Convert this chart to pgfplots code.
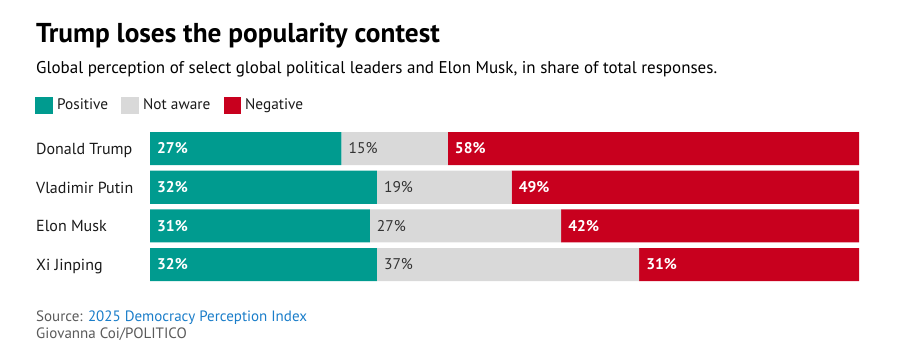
\documentclass[border=0pt]{standalone}
\usepackage{fontspec}
\setmainfont{PT Sans}
\usepackage{pgfplots}
\pgfplotsset{compat=1.18}
\usepackage{pgfplotstable}
\definecolor{cpos}{HTML}{009B8F}
\definecolor{cna}{HTML}{D9D9D9}
\definecolor{cneg}{HTML}{C8001E}
\definecolor{txt}{HTML}{1A1A1A}
\definecolor{grey}{HTML}{5A5A5A}
\definecolor{link}{HTML}{1A7DC9}
\definecolor{natxt}{HTML}{333333}

% y = row, s = start of segment, v = share
\pgfplotstableread{
y s v
0 0 27
1 0 32
2 0 31
3 0 32
}\posdata
\pgfplotstableread{
y s v
0 27 15
1 32 19
2 31 27
3 32 37
}\nadata
\pgfplotstableread{
y s v
0 42 58
1 51 49
2 58 42
3 69 31
}\negdata

\pgfplotsset{
  common/.style={
    at={(150pt,-129.2pt)}, anchor=north west,
    scale only axis, width=709pt, height=154.8pt,
    xmin=0, xmax=100, ymin=-0.5, ymax=3.5, y dir=reverse,
    axis line style={draw=none}, tick style={draw=none},
    major tick length=0pt, xtick=\empty, clip=false,
  },
}

\begin{document}
\begin{tikzpicture}
\useasboundingbox (0pt,0pt) rectangle (900pt,-361pt);
\node[anchor=base west, inner sep=0pt, font=\bfseries\fontsize{27.3}{32}\selectfont, text=black] at (36pt,-43pt) {Trump loses the popularity contest};
\node[anchor=base west, inner sep=0pt, font=\fontsize{17}{20}\selectfont, text=black] at (36pt,-74pt) {Global perception of select global political leaders and Elon Musk, in share of total responses.};
% legend
\fill[cpos] (35pt,-97pt) rectangle (53pt,-114pt);
\node[anchor=base west, inner sep=0pt, font=\fontsize{15.3}{18}\selectfont, text=txt] at (57pt,-110pt) {Positive};
\fill[cna] (121pt,-97pt) rectangle (139pt,-114pt);
\node[anchor=base west, inner sep=0pt, font=\fontsize{15.3}{18}\selectfont, text=txt] at (143pt,-110pt) {Not aware};
\fill[cneg] (224pt,-97pt) rectangle (241pt,-114pt);
\node[anchor=base west, inner sep=0pt, font=\fontsize{15.3}{18}\selectfont, text=txt] at (245pt,-110pt) {Negative};

\begin{axis}[common,
  xbar stacked, bar width=0.853,
  ytick={0,1,2,3},
  yticklabels={Donald Trump,Vladimir Putin,Elon Musk,Xi Jinping},
  yticklabel style={anchor=base west, xshift=-114pt, yshift=-5.8pt, inner sep=0pt, font=\fontsize{16}{19}\selectfont, text=txt},
]
\addplot[fill=cpos, draw=none] table[x=v,y=y]{\posdata};
\addplot[fill=cna, draw=none] table[x=v,y=y]{\nadata};
\addplot[fill=cneg, draw=none] table[x=v,y=y]{\negdata};
\end{axis}

\begin{axis}[common, ytick=\empty,
  nodes near coords={\pgfplotspointmeta\%},
  point meta=explicit symbolic,
  every node near coord/.append style={anchor=base west, inner sep=0pt, xshift=7pt, yshift=-5.3pt},
]
\addplot[only marks, mark=none, nodes near coords style={font=\bfseries\fontsize{15.5}{18}\selectfont, text=white}] table[x=s,y=y,meta=v]{\posdata};
\addplot[only marks, mark=none, nodes near coords style={font=\fontsize{15.5}{18}\selectfont, text=natxt}] table[x=s,y=y,meta=v]{\nadata};
\addplot[only marks, mark=none, nodes near coords style={font=\bfseries\fontsize{15.5}{18}\selectfont, text=white}] table[x=s,y=y,meta=v]{\negdata};
\end{axis}

\node[anchor=base west, inner sep=0pt, font=\fontsize{15}{17}\selectfont] at (36pt,-321pt) {\textcolor{grey}{Source:} \textcolor{link}{2025 Democracy Perception Index}};
\node[anchor=base west, inner sep=0pt, font=\fontsize{15}{17}\selectfont, text=grey] at (36pt,-338pt) {Giovanna Coi/POLITICO};
\end{tikzpicture}
\end{document}
